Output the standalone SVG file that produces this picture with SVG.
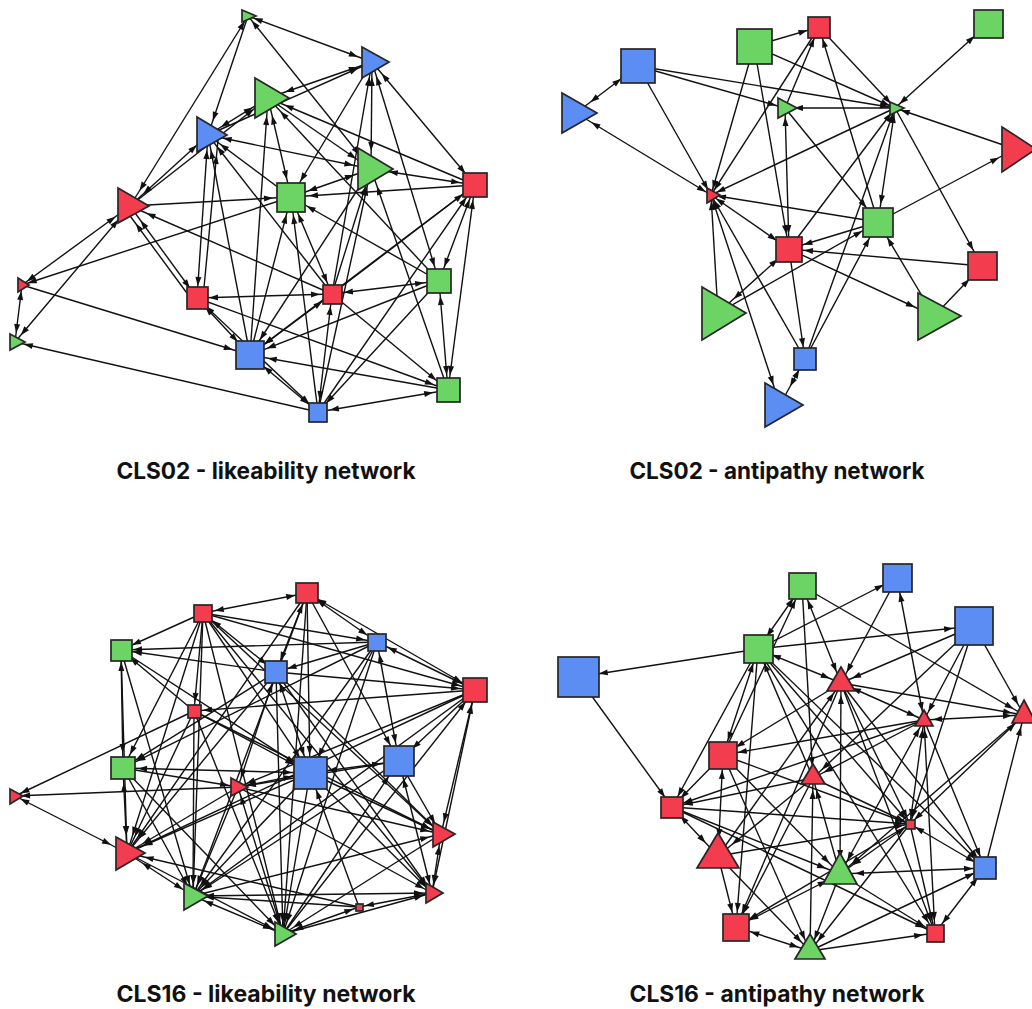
<svg xmlns="http://www.w3.org/2000/svg" width="1032" height="1009" viewBox="0 0 1032 1009">
<style>
.ed line{stroke:#111;stroke-width:1.4;fill:none}
.r{fill:#f43c4f}.g{fill:#6cd465}.b{fill:#5c8df2}
.nd rect,.nd polygon{stroke:#262626;stroke-width:1.7}
.t{font-family:Inter,"Liberation Sans",sans-serif;font-weight:700;font-size:23px;fill:#111;text-anchor:middle}
.e6{marker-end:url(#a6)}.s6{marker-start:url(#a6)}
.e9{marker-end:url(#a9)}.s9{marker-start:url(#a9)}
.e12{marker-end:url(#a12)}.s12{marker-start:url(#a12)}
.e15{marker-end:url(#a15)}.s15{marker-start:url(#a15)}
.e18{marker-end:url(#a18)}.s18{marker-start:url(#a18)}
.e21{marker-end:url(#a21)}.s21{marker-start:url(#a21)}
</style>
<defs>
<marker id="a6" markerUnits="userSpaceOnUse" markerWidth="9" markerHeight="7" refX="15" refY="3.5" orient="auto-start-reverse" overflow="visible"><path d="M0,0.5 L9,3.5 L0,6.5z" fill="#111"/></marker>
<marker id="a9" markerUnits="userSpaceOnUse" markerWidth="9" markerHeight="7" refX="18" refY="3.5" orient="auto-start-reverse" overflow="visible"><path d="M0,0.5 L9,3.5 L0,6.5z" fill="#111"/></marker>
<marker id="a12" markerUnits="userSpaceOnUse" markerWidth="9" markerHeight="7" refX="21" refY="3.5" orient="auto-start-reverse" overflow="visible"><path d="M0,0.5 L9,3.5 L0,6.5z" fill="#111"/></marker>
<marker id="a15" markerUnits="userSpaceOnUse" markerWidth="9" markerHeight="7" refX="24" refY="3.5" orient="auto-start-reverse" overflow="visible"><path d="M0,0.5 L9,3.5 L0,6.5z" fill="#111"/></marker>
<marker id="a18" markerUnits="userSpaceOnUse" markerWidth="9" markerHeight="7" refX="27" refY="3.5" orient="auto-start-reverse" overflow="visible"><path d="M0,0.5 L9,3.5 L0,6.5z" fill="#111"/></marker>
<marker id="a21" markerUnits="userSpaceOnUse" markerWidth="9" markerHeight="7" refX="30" refY="3.5" orient="auto-start-reverse" overflow="visible"><path d="M0,0.5 L9,3.5 L0,6.5z" fill="#111"/></marker>
</defs>
<rect width="1032" height="1009" fill="#fff"/>
<g id="connectors" class="ed">
<g id="edges-p1">
<line x1="248" y1="16" x2="372" y2="62" class="s6 e15"/>
<line x1="248" y1="16" x2="208" y2="135" class="e15"/>
<line x1="248" y1="16" x2="130" y2="206" class="s6 e18"/>
<line x1="371" y1="169" x2="248" y2="16" class="s18 e6"/>
<line x1="372" y1="62" x2="268" y2="98" class="s15 e18"/>
<line x1="208" y1="135" x2="372" y2="62" class="e15"/>
<line x1="372" y1="62" x2="291" y2="197" class="e18"/>
<line x1="372" y1="62" x2="371" y2="169" class="s15 e18"/>
<line x1="332" y1="294" x2="372" y2="62" class="e15"/>
<line x1="439" y1="281" x2="372" y2="62" class="s15 e15"/>
<line x1="475" y1="185" x2="372" y2="62" class="s15 e15"/>
<line x1="268" y1="98" x2="208" y2="135" class="s18 e15"/>
<line x1="130" y1="206" x2="268" y2="98" class="e18"/>
<line x1="250" y1="355" x2="268" y2="98" class="e18"/>
<line x1="291" y1="197" x2="268" y2="98" class="s18 e18"/>
<line x1="268" y1="98" x2="371" y2="169" class="e18"/>
<line x1="475" y1="185" x2="268" y2="98" class="e18"/>
<line x1="439" y1="281" x2="268" y2="98" class="e18"/>
<line x1="208" y1="135" x2="130" y2="206" class="s15 e18"/>
<line x1="208" y1="135" x2="197" y2="298" class="s15 e12"/>
<line x1="203" y1="298" x2="218" y2="140" class="e15"/>
<line x1="208" y1="135" x2="371" y2="169" class="s15 e18"/>
<line x1="291" y1="197" x2="208" y2="135" class="e15"/>
<line x1="332" y1="294" x2="208" y2="135" class="e15"/>
<line x1="250" y1="355" x2="208" y2="135" class="e15"/>
<line x1="371" y1="169" x2="475" y2="185" class="s18 e15"/>
<line x1="371" y1="169" x2="291" y2="197" class="s18 e18"/>
<line x1="332" y1="294" x2="371" y2="169" class="e18"/>
<line x1="371" y1="169" x2="250" y2="355" class="e18"/>
<line x1="448" y1="390" x2="371" y2="169" class="e18"/>
<line x1="475" y1="185" x2="291" y2="197" class="e18"/>
<line x1="332" y1="294" x2="475" y2="185" class="e15"/>
<line x1="475" y1="185" x2="439" y2="281" class="s15 e15"/>
<line x1="475" y1="185" x2="448" y2="390" class="s15 e15"/>
<line x1="475" y1="185" x2="250" y2="355" class="e18"/>
<line x1="130" y1="206" x2="291" y2="197" class="e18"/>
<line x1="291" y1="197" x2="22" y2="285" class="e6"/>
<line x1="332" y1="294" x2="291" y2="197" class="s12 e18"/>
<line x1="439" y1="281" x2="291" y2="197" class="e18"/>
<line x1="250" y1="355" x2="291" y2="197" class="e18"/>
<line x1="318" y1="412" x2="291" y2="197" class="e18"/>
<line x1="130" y1="206" x2="22" y2="285" class="s18 e6"/>
<line x1="130" y1="206" x2="15" y2="342" class="s18 e9"/>
<line x1="130" y1="206" x2="197" y2="298" class="s18 e12"/>
<line x1="192" y1="300" x2="125" y2="209" class="e18"/>
<line x1="332" y1="294" x2="130" y2="206" class="e18"/>
<line x1="22" y1="285" x2="15" y2="342" class="s6 e9"/>
<line x1="22" y1="285" x2="250" y2="355" class="e18"/>
<line x1="318" y1="412" x2="15" y2="342" class="e9"/>
<line x1="197" y1="298" x2="332" y2="294" class="s12 e12"/>
<line x1="197" y1="298" x2="250" y2="355" class="s12 e18"/>
<line x1="197" y1="298" x2="448" y2="390" class="e15"/>
<line x1="197" y1="298" x2="318" y2="412" class="s12 e12"/>
<line x1="332" y1="294" x2="439" y2="281" class="s12 e15"/>
<line x1="332" y1="294" x2="250" y2="355" class="s12 e18"/>
<line x1="332" y1="294" x2="448" y2="390" class="e15"/>
<line x1="332" y1="294" x2="318" y2="412" class="s12 e12"/>
<line x1="439" y1="281" x2="250" y2="355" class="e18"/>
<line x1="439" y1="281" x2="448" y2="390" class="s15 e15"/>
<line x1="439" y1="281" x2="318" y2="412" class="e12"/>
<line x1="448" y1="390" x2="250" y2="355" class="e18"/>
<line x1="250" y1="355" x2="318" y2="412" class="s18 e12"/>
<line x1="448" y1="390" x2="318" y2="412" class="s15 e12"/>
<line x1="318" y1="412" x2="371" y2="169" class="e18"/>
<line x1="318" y1="412" x2="475" y2="185" class="e15"/>
</g>
<g id="edges-p2">
<line x1="638" y1="66" x2="576" y2="113" class="s21 e18"/>
<line x1="576" y1="113" x2="711" y2="195" class="s18 e6"/>
<line x1="638" y1="66" x2="711" y2="195" class="e6"/>
<line x1="638" y1="66" x2="785" y2="108" class="e9"/>
<line x1="638" y1="66" x2="895" y2="108" class="e6"/>
<line x1="754" y1="46" x2="819" y2="27" class="e12"/>
<line x1="754" y1="46" x2="895" y2="108" class="e6"/>
<line x1="754" y1="46" x2="711" y2="195" class="e6"/>
<line x1="754" y1="46" x2="789" y2="249" class="e15"/>
<line x1="819" y1="27" x2="711" y2="195" class="e6"/>
<line x1="785" y1="108" x2="819" y2="27" class="e12"/>
<line x1="819" y1="27" x2="895" y2="108" class="e6"/>
<line x1="878" y1="222" x2="819" y2="27" class="e12"/>
<line x1="988" y1="24" x2="895" y2="108" class="s18 e6"/>
<line x1="895" y1="108" x2="785" y2="108" class="e9"/>
<line x1="785" y1="108" x2="789" y2="249" class="s9 e15"/>
<line x1="785" y1="108" x2="878" y2="222" class="e18"/>
<line x1="895" y1="108" x2="711" y2="195" class="e6"/>
<line x1="895" y1="108" x2="878" y2="222" class="s6 e18"/>
<line x1="1015" y1="149" x2="895" y2="108" class="e6"/>
<line x1="895" y1="108" x2="982" y2="266" class="e18"/>
<line x1="789" y1="249" x2="895" y2="108" class="e6"/>
<line x1="805" y1="359" x2="895" y2="108" class="e6"/>
<line x1="878" y1="222" x2="1015" y2="149" class="e18"/>
<line x1="878" y1="222" x2="711" y2="195" class="e6"/>
<line x1="878" y1="222" x2="789" y2="249" class="e15"/>
<line x1="718" y1="313" x2="878" y2="222" class="e18"/>
<line x1="805" y1="359" x2="878" y2="222" class="e18"/>
<line x1="934" y1="316" x2="878" y2="222" class="e18"/>
<line x1="982" y1="266" x2="789" y2="249" class="e15"/>
<line x1="934" y1="316" x2="982" y2="266" class="e18"/>
<line x1="711" y1="195" x2="789" y2="249" class="s6 e15"/>
<line x1="789" y1="249" x2="934" y2="316" class="e21"/>
<line x1="789" y1="249" x2="718" y2="313" class="s15 e21"/>
<line x1="789" y1="249" x2="805" y2="359" class="e12"/>
<line x1="718" y1="313" x2="711" y2="195" class="e6"/>
<line x1="805" y1="359" x2="711" y2="195" class="e6"/>
<line x1="780" y1="405" x2="711" y2="195" class="s21 e6"/>
<line x1="805" y1="359" x2="780" y2="405" class="s12 e21"/>
</g>
<g id="edges-p3">
<line x1="307" y1="593" x2="203" y2="613" class="s12 e12"/>
<line x1="307" y1="593" x2="377" y2="642" class="s12 e12"/>
<line x1="307" y1="593" x2="276" y2="672" class="s12 e12"/>
<line x1="307" y1="593" x2="475" y2="690" class="s12 e15"/>
<line x1="307" y1="593" x2="310" y2="773" class="e18"/>
<line x1="307" y1="593" x2="399" y2="761" class="e18"/>
<line x1="307" y1="593" x2="193" y2="896" class="e12"/>
<line x1="307" y1="593" x2="283" y2="934" class="e12"/>
<line x1="307" y1="593" x2="127" y2="853" class="e18"/>
<line x1="203" y1="613" x2="121" y2="650" class="e12"/>
<line x1="203" y1="613" x2="377" y2="642" class="e12"/>
<line x1="203" y1="613" x2="276" y2="672" class="s12 e12"/>
<line x1="203" y1="613" x2="475" y2="690" class="e15"/>
<line x1="203" y1="613" x2="194" y2="711" class="e9"/>
<line x1="203" y1="613" x2="123" y2="768" class="e15"/>
<line x1="203" y1="613" x2="310" y2="773" class="e18"/>
<line x1="203" y1="613" x2="127" y2="853" class="e18"/>
<line x1="203" y1="613" x2="193" y2="896" class="e12"/>
<line x1="203" y1="613" x2="283" y2="934" class="e12"/>
<line x1="203" y1="613" x2="432" y2="893" class="e9"/>
<line x1="203" y1="613" x2="441" y2="834" class="e12"/>
<line x1="377" y1="642" x2="121" y2="650" class="e12"/>
<line x1="276" y1="672" x2="121" y2="650" class="e12"/>
<line x1="121" y1="650" x2="123" y2="768" class="s12 e15"/>
<line x1="121" y1="650" x2="310" y2="773" class="e18"/>
<line x1="121" y1="650" x2="127" y2="853" class="e18"/>
<line x1="121" y1="650" x2="193" y2="896" class="e12"/>
<line x1="194" y1="711" x2="121" y2="650" class="e12"/>
<line x1="377" y1="642" x2="276" y2="672" class="e12"/>
<line x1="377" y1="642" x2="475" y2="690" class="s12 e15"/>
<line x1="377" y1="642" x2="399" y2="761" class="s12 e18"/>
<line x1="377" y1="642" x2="310" y2="773" class="e18"/>
<line x1="377" y1="642" x2="193" y2="896" class="e12"/>
<line x1="377" y1="642" x2="283" y2="934" class="e12"/>
<line x1="377" y1="642" x2="123" y2="768" class="e15"/>
<line x1="276" y1="672" x2="475" y2="690" class="e15"/>
<line x1="276" y1="672" x2="310" y2="773" class="s12 e18"/>
<line x1="276" y1="672" x2="238" y2="787" class="s12 e9"/>
<line x1="276" y1="672" x2="123" y2="768" class="e15"/>
<line x1="276" y1="672" x2="127" y2="853" class="e18"/>
<line x1="276" y1="672" x2="432" y2="893" class="e9"/>
<line x1="276" y1="672" x2="441" y2="834" class="e12"/>
<line x1="276" y1="672" x2="283" y2="934" class="e12"/>
<line x1="475" y1="690" x2="194" y2="711" class="e9"/>
<line x1="475" y1="690" x2="399" y2="761" class="e18"/>
<line x1="475" y1="690" x2="238" y2="787" class="e9"/>
<line x1="475" y1="690" x2="441" y2="834" class="s15 e12"/>
<line x1="475" y1="690" x2="432" y2="893" class="s15 e9"/>
<line x1="475" y1="690" x2="193" y2="896" class="e12"/>
<line x1="475" y1="690" x2="127" y2="853" class="e18"/>
<line x1="194" y1="711" x2="310" y2="773" class="e18"/>
<line x1="194" y1="711" x2="441" y2="834" class="e12"/>
<line x1="194" y1="711" x2="15" y2="796" class="e6"/>
<line x1="194" y1="711" x2="283" y2="934" class="e12"/>
<line x1="194" y1="711" x2="193" y2="896" class="e12"/>
<line x1="194" y1="711" x2="127" y2="853" class="e18"/>
<line x1="123" y1="768" x2="310" y2="773" class="s15 e18"/>
<line x1="123" y1="768" x2="238" y2="787" class="e9"/>
<line x1="123" y1="768" x2="127" y2="853" class="s15 e18"/>
<line x1="123" y1="768" x2="193" y2="896" class="e12"/>
<line x1="123" y1="768" x2="283" y2="934" class="e12"/>
<line x1="310" y1="773" x2="399" y2="761" class="s18 e18"/>
<line x1="310" y1="773" x2="238" y2="787" class="s18 e9"/>
<line x1="310" y1="773" x2="441" y2="834" class="e12"/>
<line x1="310" y1="773" x2="127" y2="853" class="e18"/>
<line x1="310" y1="773" x2="193" y2="896" class="e12"/>
<line x1="310" y1="773" x2="432" y2="893" class="e9"/>
<line x1="310" y1="773" x2="283" y2="934" class="e12"/>
<line x1="359" y1="907" x2="310" y2="773" class="e18"/>
<line x1="399" y1="761" x2="238" y2="787" class="e9"/>
<line x1="399" y1="761" x2="441" y2="834" class="e12"/>
<line x1="399" y1="761" x2="432" y2="893" class="s18 e9"/>
<line x1="399" y1="761" x2="193" y2="896" class="e12"/>
<line x1="283" y1="934" x2="399" y2="761" class="e18"/>
<line x1="238" y1="787" x2="15" y2="796" class="e6"/>
<line x1="15" y1="796" x2="127" y2="853" class="s6 e18"/>
<line x1="238" y1="787" x2="127" y2="853" class="e18"/>
<line x1="238" y1="787" x2="193" y2="896" class="e12"/>
<line x1="283" y1="934" x2="238" y2="787" class="s12 e9"/>
<line x1="238" y1="787" x2="432" y2="893" class="e9"/>
<line x1="238" y1="787" x2="441" y2="834" class="e12"/>
<line x1="441" y1="834" x2="432" y2="893" class="s12 e9"/>
<line x1="441" y1="834" x2="283" y2="934" class="e12"/>
<line x1="359" y1="907" x2="127" y2="853" class="e18"/>
<line x1="127" y1="853" x2="193" y2="896" class="s18 e12"/>
<line x1="127" y1="853" x2="283" y2="934" class="e12"/>
<line x1="359" y1="907" x2="193" y2="896" class="e12"/>
<line x1="193" y1="896" x2="432" y2="893" class="s12 e9"/>
<line x1="193" y1="896" x2="283" y2="934" class="s12 e12"/>
<line x1="359" y1="907" x2="432" y2="893" class="s6 e9"/>
<line x1="359" y1="907" x2="283" y2="934" class="s6 e12"/>
<line x1="283" y1="934" x2="432" y2="893" class="e9"/>
<line x1="193" y1="896" x2="441" y2="834" class="e12"/>
<line x1="283" y1="934" x2="475" y2="690" class="e15"/>
</g>
<g id="edges-p4">
<line x1="758" y1="649" x2="802" y2="586" class="s15 e15"/>
<line x1="758" y1="649" x2="897" y2="578" class="e15"/>
<line x1="758" y1="649" x2="974" y2="626" class="e21"/>
<line x1="758" y1="649" x2="578" y2="677" class="e21"/>
<line x1="758" y1="649" x2="841" y2="683" class="s15 e12"/>
<line x1="802" y1="586" x2="841" y2="683" class="s15 e12"/>
<line x1="802" y1="586" x2="1024" y2="715" class="e12"/>
<line x1="802" y1="586" x2="813" y2="778" class="e12"/>
<line x1="897" y1="578" x2="841" y2="683" class="e12"/>
<line x1="897" y1="578" x2="924" y2="720" class="s15 e9"/>
<line x1="974" y1="626" x2="841" y2="683" class="e12"/>
<line x1="974" y1="626" x2="924" y2="720" class="e9"/>
<line x1="974" y1="626" x2="1024" y2="715" class="e12"/>
<line x1="974" y1="626" x2="813" y2="778" class="e12"/>
<line x1="974" y1="626" x2="910" y2="824" class="e6"/>
<line x1="578" y1="677" x2="672" y2="807" class="e12"/>
<line x1="841" y1="683" x2="924" y2="720" class="s12 e9"/>
<line x1="841" y1="683" x2="1024" y2="715" class="e12"/>
<line x1="841" y1="683" x2="723" y2="755" class="e15"/>
<line x1="841" y1="683" x2="910" y2="824" class="e6"/>
<line x1="841" y1="683" x2="840" y2="874" class="s12 e15"/>
<line x1="841" y1="683" x2="985" y2="868" class="e12"/>
<line x1="841" y1="683" x2="736" y2="927" class="e15"/>
<line x1="841" y1="683" x2="935" y2="933" class="e12"/>
<line x1="758" y1="649" x2="723" y2="755" class="s15 e15"/>
<line x1="758" y1="649" x2="672" y2="807" class="e12"/>
<line x1="758" y1="649" x2="736" y2="927" class="e15"/>
<line x1="758" y1="649" x2="910" y2="824" class="e6"/>
<line x1="758" y1="649" x2="985" y2="868" class="e12"/>
<line x1="758" y1="649" x2="935" y2="933" class="e12"/>
<line x1="813" y1="778" x2="758" y2="649" class="e15"/>
<line x1="924" y1="720" x2="1024" y2="715" class="s9 e12"/>
<line x1="924" y1="720" x2="723" y2="755" class="e15"/>
<line x1="924" y1="720" x2="813" y2="778" class="e12"/>
<line x1="924" y1="720" x2="672" y2="807" class="e12"/>
<line x1="924" y1="720" x2="910" y2="824" class="s9 e6"/>
<line x1="924" y1="720" x2="840" y2="874" class="s9 e15"/>
<line x1="924" y1="720" x2="985" y2="868" class="e12"/>
<line x1="924" y1="720" x2="935" y2="933" class="s9 e12"/>
<line x1="1024" y1="715" x2="910" y2="824" class="s12 e6"/>
<line x1="1024" y1="715" x2="840" y2="874" class="e15"/>
<line x1="985" y1="868" x2="1024" y2="715" class="e12"/>
<line x1="723" y1="755" x2="672" y2="807" class="e12"/>
<line x1="723" y1="755" x2="910" y2="824" class="e6"/>
<line x1="723" y1="755" x2="718" y2="856" class="s15 e18"/>
<line x1="723" y1="755" x2="810" y2="951" class="e12"/>
<line x1="723" y1="755" x2="840" y2="874" class="e15"/>
<line x1="813" y1="778" x2="672" y2="807" class="e12"/>
<line x1="813" y1="778" x2="718" y2="856" class="e18"/>
<line x1="813" y1="778" x2="736" y2="927" class="e15"/>
<line x1="813" y1="778" x2="910" y2="824" class="e6"/>
<line x1="840" y1="874" x2="813" y2="778" class="e12"/>
<line x1="810" y1="951" x2="813" y2="778" class="e12"/>
<line x1="672" y1="807" x2="910" y2="824" class="e6"/>
<line x1="672" y1="807" x2="718" y2="856" class="s12 e18"/>
<line x1="672" y1="807" x2="840" y2="874" class="e15"/>
<line x1="672" y1="807" x2="935" y2="933" class="e12"/>
<line x1="718" y1="856" x2="910" y2="824" class="e6"/>
<line x1="718" y1="856" x2="736" y2="927" class="e15"/>
<line x1="718" y1="856" x2="810" y2="951" class="e12"/>
<line x1="840" y1="874" x2="985" y2="868" class="s15 e12"/>
<line x1="840" y1="874" x2="910" y2="824" class="s15 e6"/>
<line x1="840" y1="874" x2="736" y2="927" class="s15 e15"/>
<line x1="840" y1="874" x2="810" y2="951" class="e12"/>
<line x1="840" y1="874" x2="935" y2="933" class="e12"/>
<line x1="910" y1="824" x2="985" y2="868" class="s6 e12"/>
<line x1="910" y1="824" x2="935" y2="933" class="e12"/>
<line x1="910" y1="824" x2="736" y2="927" class="e15"/>
<line x1="910" y1="824" x2="810" y2="951" class="e12"/>
<line x1="985" y1="868" x2="935" y2="933" class="s12 e12"/>
<line x1="736" y1="927" x2="810" y2="951" class="s15 e12"/>
<line x1="810" y1="951" x2="935" y2="933" class="e12"/>
<line x1="810" y1="951" x2="985" y2="868" class="e12"/>
<line x1="718" y1="856" x2="841" y2="683" class="e12"/>
<line x1="723" y1="755" x2="802" y2="586" class="e15"/>
</g>
</g>
<g class="nd">
<g id="p1-n1"><polygon class="g" points="242,10 256,16 242,22"/></g>
<g id="p1-n2"><polygon class="b" points="362,47 389,62 362,78"/></g>
<g id="p1-n3"><polygon class="g" points="255,78 289,98 255,118"/></g>
<g id="p1-n4"><polygon class="b" points="197,117 227,135 197,152"/></g>
<g id="p1-n5"><polygon class="g" points="358,148 393,169 358,190"/></g>
<g id="p1-n6"><rect class="r" x="463" y="173" width="24" height="24"/></g>
<g id="p1-n7"><rect class="g" x="277" y="183" width="28" height="29"/></g>
<g id="p1-n8"><polygon class="r" points="118,188 149,206 118,223"/></g>
<g id="p1-n9"><polygon class="r" points="18,278 29,285 18,292"/></g>
<g id="p1-n10"><polygon class="g" points="10,334 25,342 10,350"/></g>
<g id="p1-n11"><rect class="r" x="187" y="287" width="21" height="22"/></g>
<g id="p1-n12"><rect class="r" x="323" y="285" width="19" height="19"/></g>
<g id="p1-n13"><rect class="g" x="427" y="269" width="24" height="24"/></g>
<g id="p1-n14"><rect class="b" x="236" y="341" width="28" height="28"/></g>
<g id="p1-n15"><rect class="g" x="437" y="378" width="23" height="24"/></g>
<g id="p1-n16"><rect class="b" x="309" y="403" width="18" height="19"/></g>

<g id="p2-n1"><rect class="b" x="621" y="49" width="34" height="34"/></g>
<g id="p2-n2"><polygon class="b" points="562,93 597,113 562,133"/></g>
<g id="p2-n3"><rect class="g" x="737" y="29" width="35" height="35"/></g>
<g id="p2-n4"><rect class="r" x="808" y="17" width="22" height="21"/></g>
<g id="p2-n5"><rect class="g" x="974" y="10" width="29" height="28"/></g>
<g id="p2-n6"><polygon class="g" points="778,98 797,108 778,118"/></g>
<g id="p2-n7"><polygon class="g" points="890,102 904,108 890,115"/></g>
<g id="p2-n8"><polygon class="r" points="1002,127 1036,149 1002,172"/></g>
<g id="p2-n9"><polygon class="r" points="707,188 720,195 707,203"/></g>
<g id="p2-n10"><rect class="g" x="863" y="208" width="30" height="29"/></g>
<g id="p2-n11"><rect class="r" x="776" y="237" width="26" height="25"/></g>
<g id="p2-n12"><rect class="r" x="968" y="252" width="29" height="28"/></g>
<g id="p2-n13"><polygon class="g" points="702,287 746,313 702,340"/></g>
<g id="p2-n14"><polygon class="g" points="918,293 961,316 918,340"/></g>
<g id="p2-n15"><rect class="b" x="794" y="348" width="22" height="22"/></g>
<g id="p2-n16"><polygon class="b" points="765,383 803,405 765,427"/></g>

<g id="p3-n1"><rect class="r" x="296" y="583" width="22" height="20"/></g>
<g id="p3-n2"><rect class="r" x="194" y="605" width="18" height="17"/></g>
<g id="p3-n3"><rect class="g" x="111" y="640" width="21" height="21"/></g>
<g id="p3-n4"><rect class="b" x="368" y="634" width="18" height="17"/></g>
<g id="p3-n5"><rect class="b" x="265" y="661" width="22" height="22"/></g>
<g id="p3-n6"><rect class="r" x="463" y="678" width="24" height="24"/></g>
<g id="p3-n7"><rect class="r" x="188" y="705" width="13" height="13"/></g>
<g id="p3-n8"><rect class="g" x="111" y="757" width="24" height="22"/></g>
<g id="p3-n9"><rect class="b" x="294" y="757" width="33" height="32"/></g>
<g id="p3-n10"><rect class="b" x="384" y="746" width="30" height="30"/></g>
<g id="p3-n11"><polygon class="r" points="10,789 23,796 10,804"/></g>
<g id="p3-n12"><polygon class="r" points="231,778 248,787 231,796"/></g>
<g id="p3-n13"><polygon class="r" points="433,822 455,834 433,847"/></g>
<g id="p3-n14"><polygon class="r" points="116,837 145,853 116,870"/></g>
<g id="p3-n15"><polygon class="g" points="184,883 208,896 184,910"/></g>
<g id="p3-n16"><rect class="r" x="356" y="904" width="7" height="7"/></g>
<g id="p3-n17"><polygon class="r" points="426,883 443,893 426,903"/></g>
<g id="p3-n18"><polygon class="g" points="275,922 296,934 275,946"/></g>

<g id="p4-n1"><rect class="g" x="789" y="573" width="27" height="26"/></g>
<g id="p4-n2"><rect class="b" x="883" y="564" width="29" height="28"/></g>
<g id="p4-n3"><rect class="b" x="955" y="607" width="38" height="38"/></g>
<g id="p4-n4"><rect class="g" x="744" y="635" width="29" height="28"/></g>
<g id="p4-n5"><rect class="b" x="558" y="657" width="41" height="40"/></g>
<g id="p4-n6"><polygon class="r" points="841,667 855,691 827,691"/></g>
<g id="p4-n7"><polygon class="r" points="924,710 933,726 915,726"/></g>
<g id="p4-n8"><polygon class="r" points="1024,700 1036,723 1012,723"/></g>
<g id="p4-n9"><rect class="r" x="709" y="742" width="28" height="27"/></g>
<g id="p4-n10"><polygon class="r" points="813,764 825,784 801,784"/></g>
<g id="p4-n11"><rect class="r" x="661" y="797" width="22" height="21"/></g>
<g id="p4-n12"><rect class="r" x="906" y="820" width="9" height="9"/></g>
<g id="p4-n13"><polygon class="r" points="718,833 739,868 697,868"/></g>
<g id="p4-n14"><polygon class="g" points="840,853 857,884 823,884"/></g>
<g id="p4-n15"><rect class="b" x="974" y="857" width="22" height="22"/></g>
<g id="p4-n16"><rect class="r" x="723" y="914" width="26" height="27"/></g>
<g id="p4-n17"><polygon class="g" points="810,934 825,959 795,959"/></g>
<g id="p4-n18"><rect class="r" x="927" y="925" width="17" height="17"/></g>
</g>
<g id="titles">
<text class="t" x="266" y="479" textLength="299" lengthAdjust="spacingAndGlyphs">CLS02 - likeability network</text>
<text class="t" x="777" y="479" textLength="295" lengthAdjust="spacingAndGlyphs">CLS02 - antipathy network</text>
<text class="t" x="266" y="1002" textLength="299" lengthAdjust="spacingAndGlyphs">CLS16 - likeability network</text>
<text class="t" x="777" y="1002" textLength="295" lengthAdjust="spacingAndGlyphs">CLS16 - antipathy network</text>
</g>
</svg>
